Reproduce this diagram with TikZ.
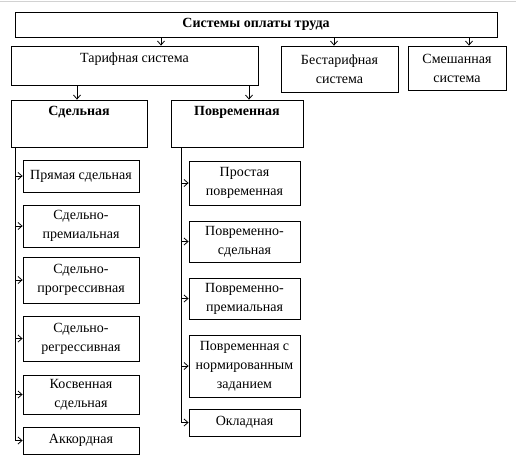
\documentclass[tikz,border=0pt]{standalone}
\usepackage{fontspec}
\setmainfont{Liberation Serif}
\usetikzlibrary{arrows.meta}
\tikzset{
  txt/.style={font=\fontsize{14}{19}\selectfont},
  head/.style={font=\fontsize{14}{19}\selectfont\bfseries},
  box/.style={draw, txt, inner sep=0pt, align=center},
  item/.style={box, minimum width=#1},
  arr/.style={-{Straight Barb[length=4pt,width=7pt]}}
}
\begin{document}
\begin{tikzpicture}[x=1pt, y=-1pt, line width=0.8pt]
  \useasboundingbox (0,0) rectangle (516,464);
  \draw[gray!35, line width=1.5pt] (0,1.5) -- (516,1.5);
  \node[box, head, minimum width=482pt, minimum height=25pt] (sys) at (256,24.5) {Системы оплаты труда};
  \node[box, minimum width=247pt, minimum height=39pt,
    label={[anchor=north, yshift=-3pt, txt]north:Тарифная система}] (tarif) at (134.5,65.5) {};
  \node[box, minimum width=117pt, minimum height=46pt] (bes) at (339.5,69) {Бестарифная\\система};
  \node[box, minimum width=98pt, minimum height=44pt] (mix) at (457,68) {Смешанная\\система};
  \node[box, minimum width=136pt, minimum height=47pt,
    label={[anchor=north, yshift=-3pt, head]north:Сдельная}] (sd) at (79,123.5) {};
  \node[box, minimum width=132pt, minimum height=47pt,
    label={[anchor=north, yshift=-3pt, head]north:Повременная}] (pv) at (237,123.5) {};
  \foreach \n/\dx in {tarif/26.5, bes/-5.5, mix/12} {
    \coordinate (\n In) at ([xshift=\dx pt]\n.north);
    \draw[arr] (sys.south -| \n In) -- (\n In);
  }
  \foreach \n/\dx in {sd/-2, pv/12} {
    \coordinate (\n In) at ([xshift=\dx pt]\n.north);
    \draw[arr] (tarif.south -| \n In) -- (\n In);
  }
  \foreach \n/\y/\h/\t in {
    s1/176/32/Прямая сдельная,
    s2/226/42/{Сдельно-\\премиальная},
    s3/280/46/{Сдельно-\\прогрессивная},
    s4/338.5/45/{Сдельно-\\регрессивная},
    s5/394.5/39/{Косвенная\\сдельная},
    s6/440.5/27/Аккордная} {
    \node[item=116pt, minimum height=\h pt] (\n) at (81,\y) {\t};
  }
  \foreach \n/\y/\h/\t in {
    p1/183/44/{Простая\\повременная},
    p2/241.5/41/{Повременно-\\сдельная},
    p3/298.5/41/{Повременно-\\премиальная},
    p4/366/62/{Повременная с\\нормированным\\заданием},
    p5/422.5/27/Окладная} {
    \node[item=111pt, minimum height=\h pt] (\n) at (244.5,\y) {\t};
  }
  \coordinate (sdT) at ([xshift=5pt]sd.south west);
  \coordinate (pvT) at ([xshift=11pt]pv.south west);
  \foreach \n in {s1,s2,s3,s4,s5}
    \draw[arr] (sdT |- \n.west) -- (\n.west);
  \draw[arr] (sdT) |- (s6.west);
  \foreach \n in {p1,p2,p3,p4}
    \draw[arr] (pvT |- \n.west) -- (\n.west);
  \draw[arr] (pvT) |- (p5.west);
\end{tikzpicture}
\end{document}
